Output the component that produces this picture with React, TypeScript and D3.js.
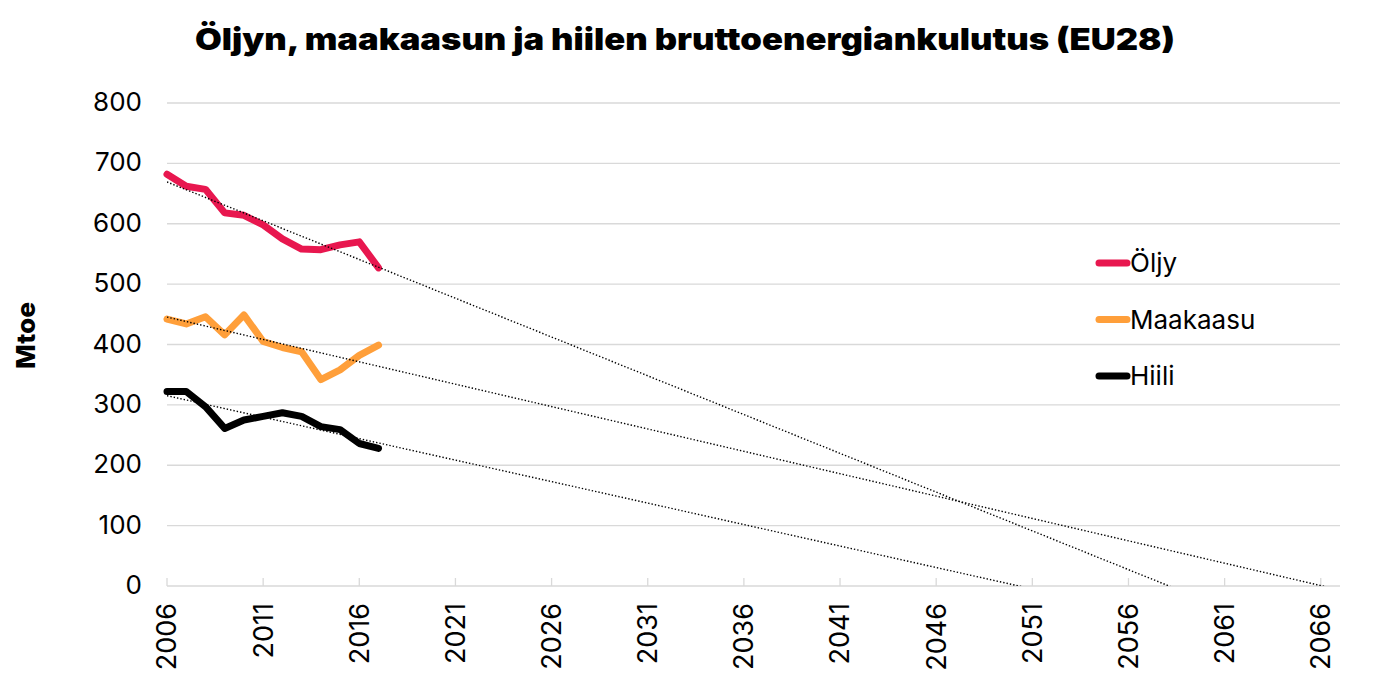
import { useEffect, useRef } from 'react'
import * as d3 from 'd3'

// Years 2006–2017
const years = [2006, 2007, 2008, 2009, 2010, 2011, 2012, 2013, 2014, 2015, 2016, 2017]
const oljy = [682, 662, 657, 618, 614, 598, 575, 558, 557, 565, 570, 527]
const maakaasu = [442, 434, 446, 416, 449, 405, 395, 388, 342, 358, 382, 399]
const hiili = [322, 322, 297, 261, 275, 281, 287, 281, 264, 259, 236, 228]

const seriesNames = ['Öljy', 'Maakaasu', 'Hiili']
const seriesColors = ['#e8174f', '#ff9f3a', '#000000']
const xTicks = [2006, 2011, 2016, 2021, 2026, 2031, 2036, 2041, 2046, 2051, 2056, 2061, 2066]
const yTicks = [0, 100, 200, 300, 400, 500, 600, 700, 800]

const title = 'Öljyn, maakaasun ja hiilen bruttoenergiankulutus (EU28)'
const yLabel = 'Mtoe'

export default function App() {
  const svgRef = useRef<SVGSVGElement>(null)

  useEffect(() => {
    if (!svgRef.current) return
    const svg = d3.select(svgRef.current)
    svg.selectAll('*').remove()

    const left = 167, right = 1340, top = 103, bottom = 586
    const font = 'Inter, "Noto Sans", sans-serif'

    const x = d3.scaleLinear().domain([2006, 2067]).range([left, right])
    const y = d3.scaleLinear().domain([0, 800]).range([bottom, top])

    // title
    svg.append('text')
      .attr('x', 195).attr('y', 50)
      .attr('textLength', 980)
      .attr('lengthAdjust', 'spacingAndGlyphs')
      .style('font-family', font)
      .style('font-weight', 900)
      .style('font-size', '30px')
      .text(title)

    // grid
    svg.append('g').selectAll('line')
      .data(yTicks)
      .enter().append('line')
      .attr('x1', left).attr('x2', right)
      .attr('y1', d => y(d)).attr('y2', d => y(d))
      .attr('stroke', '#d9d9d9')
      .attr('stroke-width', 1.3)

    // x tick marks
    svg.append('g').selectAll('line')
      .data(xTicks)
      .enter().append('line')
      .attr('x1', d => x(d)).attr('x2', d => x(d))
      .attr('y1', bottom).attr('y2', bottom - 8)
      .attr('stroke', '#d9d9d9')
      .attr('stroke-width', 1.3)

    // y tick labels
    svg.append('g').selectAll('text')
      .data(yTicks)
      .enter().append('text')
      .attr('x', 142)
      .attr('y', d => y(d) - 1)
      .attr('dy', '0.35em')
      .attr('text-anchor', 'end')
      .style('font-family', font)
      .style('font-size', '26px')
      .text(d => d)

    // x tick labels
    svg.append('g').selectAll('text')
      .data(xTicks)
      .enter().append('text')
      .attr('transform', d => `translate(${x(d)},${bottom + 17}) rotate(-90)`)
      .attr('dy', '0.35em')
      .attr('text-anchor', 'end')
      .style('font-family', font)
      .style('font-size', '27px')
      .text(d => d)

    // y axis label
    svg.append('text')
      .attr('transform', `translate(26,336) rotate(-90)`)
      .attr('x', -33)
      .attr('dy', '0.35em')
      .attr('textLength', 67)
      .attr('lengthAdjust', 'spacingAndGlyphs')
      .style('font-family', font)
      .style('font-weight', 800)
      .style('font-size', '26px')
      .text(yLabel)

    const allSeries = [oljy, maakaasu, hiili]

    svg.append('clipPath').attr('id', 'plot-clip')
      .append('rect')
      .attr('x', left).attr('y', top)
      .attr('width', right - left).attr('height', bottom - top)

    // data lines
    const line = d3.line<number>()
      .x((_, i) => x(years[i]))
      .y(d => y(d))

    allSeries.forEach((vals, k) => {
      svg.append('path')
        .datum(vals)
        .attr('d', line)
        .attr('fill', 'none')
        .attr('stroke', seriesColors[k])
        .attr('stroke-width', 7)
        .attr('stroke-linejoin', 'round')
        .attr('stroke-linecap', 'round')
    })

    // linear trendlines (least squares), extended forward
    const trendG = svg.append('g').attr('clip-path', 'url(#plot-clip)')
    allSeries.forEach(vals => {
      const mx = d3.mean(years) as number
      const my = d3.mean(vals) as number
      const sxy = d3.sum(years, (yr, i) => (yr - mx) * (vals[i] - my))
      const sxx = d3.sum(years, yr => (yr - mx) ** 2)
      const slope = sxy / sxx
      const icpt = my - slope * mx
      const ends = [2006, 2067]
      trendG.append('line')
        .attr('x1', x(ends[0])).attr('y1', y(icpt + slope * ends[0]))
        .attr('x2', x(ends[1])).attr('y2', y(icpt + slope * ends[1]))
        .attr('stroke', '#000')
        .attr('stroke-width', 1.4)
        .attr('stroke-dasharray', '1.4,2')
    })

    // legend
    const legend = svg.append('g')
    seriesNames.forEach((name, k) => {
      const ly = 263 + k * 56.5
      legend.append('line')
        .attr('x1', 1099).attr('x2', 1127)
        .attr('y1', ly).attr('y2', ly)
        .attr('stroke', seriesColors[k])
        .attr('stroke-width', 7)
        .attr('stroke-linecap', 'round')
      legend.append('text')
        .attr('x', 1130).attr('y', ly)
        .attr('dy', '0.35em')
        .style('font-family', font)
        .style('font-size', '26px')
        .text(name)
    })
  }, [])

  return (
    <svg
      ref={svgRef}
      width={1375}
      height={688}
      style={{ position: 'absolute', left: 0, top: 0, background: '#fff' }}
    />
  )
}
